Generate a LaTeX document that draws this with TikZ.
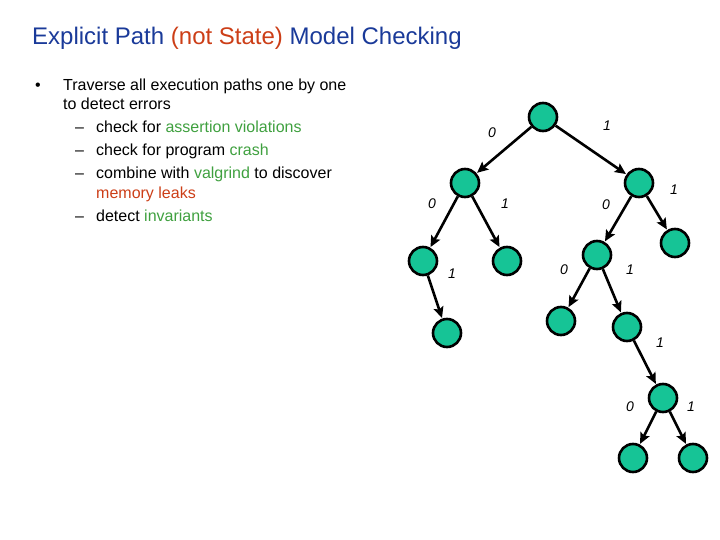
\documentclass[tikz,border=0pt]{standalone}
\usepackage{fontspec}
\setmainfont{Liberation Sans}
\usetikzlibrary{arrows.meta}
\definecolor{titleblue}{RGB}{26,58,153}
\definecolor{redish}{RGB}{204,62,23}
\definecolor{greenish}{RGB}{63,160,63}
\definecolor{nodefill}{RGB}{22,196,150}
\tikzset{
  st/.style={circle,draw=black,line width=2.6pt,fill=nodefill,minimum size=28pt,inner sep=0pt},
  edge/.style={line width=2.6pt,-{Stealth[length=11pt,width=10pt,inset=2pt]},shorten >=0.5pt},
  lab/.style={font=\fontsize{14pt}{16pt}\selectfont\itshape,inner sep=0pt},
  body/.style={anchor=base west,inner sep=0pt,font=\fontsize{16pt}{19pt}\selectfont},
}
\begin{document}
\begin{tikzpicture}[x=1pt,y=-1pt]
\useasboundingbox (0,0) rectangle (720,540);
% title
\node[anchor=base west,inner sep=0pt,font=\fontsize{24pt}{28pt}\selectfont] (title) at (32,45)
  {\textcolor{titleblue}{Explicit Path} \textcolor{redish}{(not State)} \textcolor{titleblue}{Model Checking}};
% bullets
\node[body] (b0) at (35,91) {•};
\node[body] (t1) at (63,91) {Traverse all execution paths one by one};
\node[body] (t2) at (63,110) {to detect errors};
\node[body] (d1) at (75,133) {–};
\node[body] (s1) at (96,133) {check for \textcolor{greenish}{assertion violations}};
\node[body] (d2) at (75,156) {–};
\node[body] (s2) at (96,156) {check for program \textcolor{greenish}{crash}};
\node[body] (d3) at (75,179) {–};
\node[body] (s3) at (96,179) {combine with \textcolor{greenish}{valgrind} to discover};
\node[body] (s3b) at (96,199) {\textcolor{redish}{memory leaks}};
\node[body] (d4) at (75,222) {–};
\node[body] (s4) at (96,222) {detect \textcolor{greenish}{invariants}};
% tree nodes
\node[st] (r) at (543,117) {};
\node[st] (a) at (465,183) {};
\node[st] (b) at (639,183) {};
\node[st] (aa) at (423,261) {};
\node[st] (ab) at (507,261) {};
\node[st] (ba) at (597,255) {};
\node[st] (bb) at (675,243) {};
\node[st] (aab) at (447,333) {};
\node[st] (baa) at (561,321) {};
\node[st] (bab) at (627,327) {};
\node[st] (babb) at (663,398) {};
\node[st] (babba) at (633,458) {};
\node[st] (babbb) at (693,458) {};
% edges
\draw[edge] (r) -- (a);
\draw[edge] (r) -- (b);
\draw[edge] (a) -- (aa);
\draw[edge] (a) -- (ab);
\draw[edge] (b) -- (ba);
\draw[edge] (b) -- (bb);
\draw[edge] (aa) -- (aab);
\draw[edge] (ba) -- (baa);
\draw[edge] (ba) -- (bab);
\draw[edge] (bab) -- (babb);
\draw[edge] (babb) -- (babba);
\draw[edge] (babb) -- (babbb);
% labels
\node[lab] (l1) at (492,133) {0};
\node[lab] (l2) at (607,126) {1};
\node[lab] (l3) at (432,204) {0};
\node[lab] (l4) at (505,204) {1};
\node[lab] (l5) at (606,205) {0};
\node[lab] (l6) at (674,190) {1};
\node[lab] (l7) at (452,274) {1};
\node[lab] (l8) at (564,270) {0};
\node[lab] (l9) at (630,270) {1};
\node[lab] (l10) at (660,343) {1};
\node[lab] (l11) at (630,407) {0};
\node[lab] (l12) at (691,407) {1};
\end{tikzpicture}
\end{document}
